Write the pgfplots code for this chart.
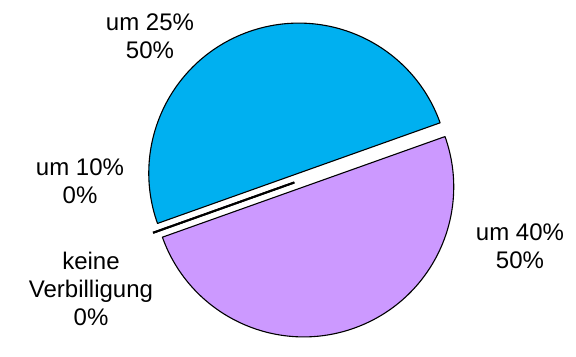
\documentclass[border=0pt]{standalone}
\usepackage{pgfplots}
\pgfplotsset{compat=1.18}
\usepackage{pgfplotstable}
\usepackage{fontspec}
\setmainfont{Liberation Sans}
\definecolor{sliceBlue}{RGB}{0,176,240}
\definecolor{slicePurple}{RGB}{204,153,255}

% shares (percent): um 25%, um 10%, keine Verbilligung, um 40%
\pgfplotstableread{
value
50
0
0
50
}\piedata

\begin{document}
\begin{tikzpicture}
\pgfplotstablegetelem{0}{value}\of\piedata \let\vA\pgfplotsretval
\pgfplotstablegetelem{1}{value}\of\piedata \let\vB\pgfplotsretval
\pgfplotstablegetelem{2}{value}\of\piedata \let\vC\pgfplotsretval
\pgfplotstablegetelem{3}{value}\of\piedata \let\vD\pgfplotsretval
\pgfmathsetmacro\total{\vA+\vB+\vC+\vD}
\def\cx{301.25}\def\cy{157}\def\R{150}\def\d{7.3}
\pgfmathsetmacro\aA{19.6}
\pgfmathsetmacro\aB{\aA+360*(\vA/\total)}
\pgfmathsetmacro\aC{\aB+360*(\vB/\total)}
\pgfmathsetmacro\aD{\aC+360*(\vC/\total)}
\pgfmathsetmacro\aE{\aD+360*(\vD/\total)}
% mid angles and exploded centres
\pgfmathsetmacro\mA{(\aA+\aB)/2}
\pgfmathsetmacro\mB{(\aB+\aC)/2}
\pgfmathsetmacro\mC{(\aC+\aD)/2}
\pgfmathsetmacro\mD{(\aD+\aE)/2}
\pgfmathsetmacro\xA{\cx+\d*cos(\mA)}\pgfmathsetmacro\yA{\cy+\d*sin(\mA)}
\pgfmathsetmacro\xB{\cx+\d*cos(\mB)}\pgfmathsetmacro\yB{\cy+\d*sin(\mB)}
\pgfmathsetmacro\xC{\cx+\d*cos(\mC)}\pgfmathsetmacro\yC{\cy+\d*sin(\mC)}
\pgfmathsetmacro\xD{\cx+\d*cos(\mD)}\pgfmathsetmacro\yD{\cy+\d*sin(\mD)}
\begin{axis}[hide axis, x=1bp, y=1bp, xmin=0, xmax=576, ymin=0, ymax=337,
  clip=false, anchor=origin, at={(0,0)}]
\path (axis cs:0,0) rectangle (axis cs:576,337);
% um 25%
\filldraw[fill=sliceBlue, draw=black, line width=1.1bp, line join=round]
  (axis cs:\xA,\yA) -- ++(\aA:\R bp) arc[start angle=\aA, end angle=\aB, radius=\R bp] -- cycle;
% um 40%
\filldraw[fill=slicePurple, draw=black, line width=1.1bp, line join=round]
  (axis cs:\xD,\yD) -- ++(\aD:\R bp) arc[start angle=\aD, end angle=\aE, radius=\R bp] -- cycle;
% zero slices (um 10%, keine Verbilligung)
\draw[black, line width=2bp] (axis cs:\xB,\yB) -- ++(\aB:\R bp);
\draw[black, line width=2bp] (axis cs:\xC,\yC) -- ++(\aC:\R bp);
% labels
\begin{scope}[every node/.style={align=center, inner sep=0pt, font=\fontsize{24bp}{27.6bp}\selectfont}]
\node at (axis cs:150,301) {um 25\%\\50\%};
\node at (axis cs:80,156) {um 10\%\\0\%};
\node at (axis cs:91,48) {keine\\Verbilligung\\0\%};
\node at (axis cs:520,91) {um 40\%\\50\%};
\end{scope}
\end{axis}
\end{tikzpicture}
\end{document}
